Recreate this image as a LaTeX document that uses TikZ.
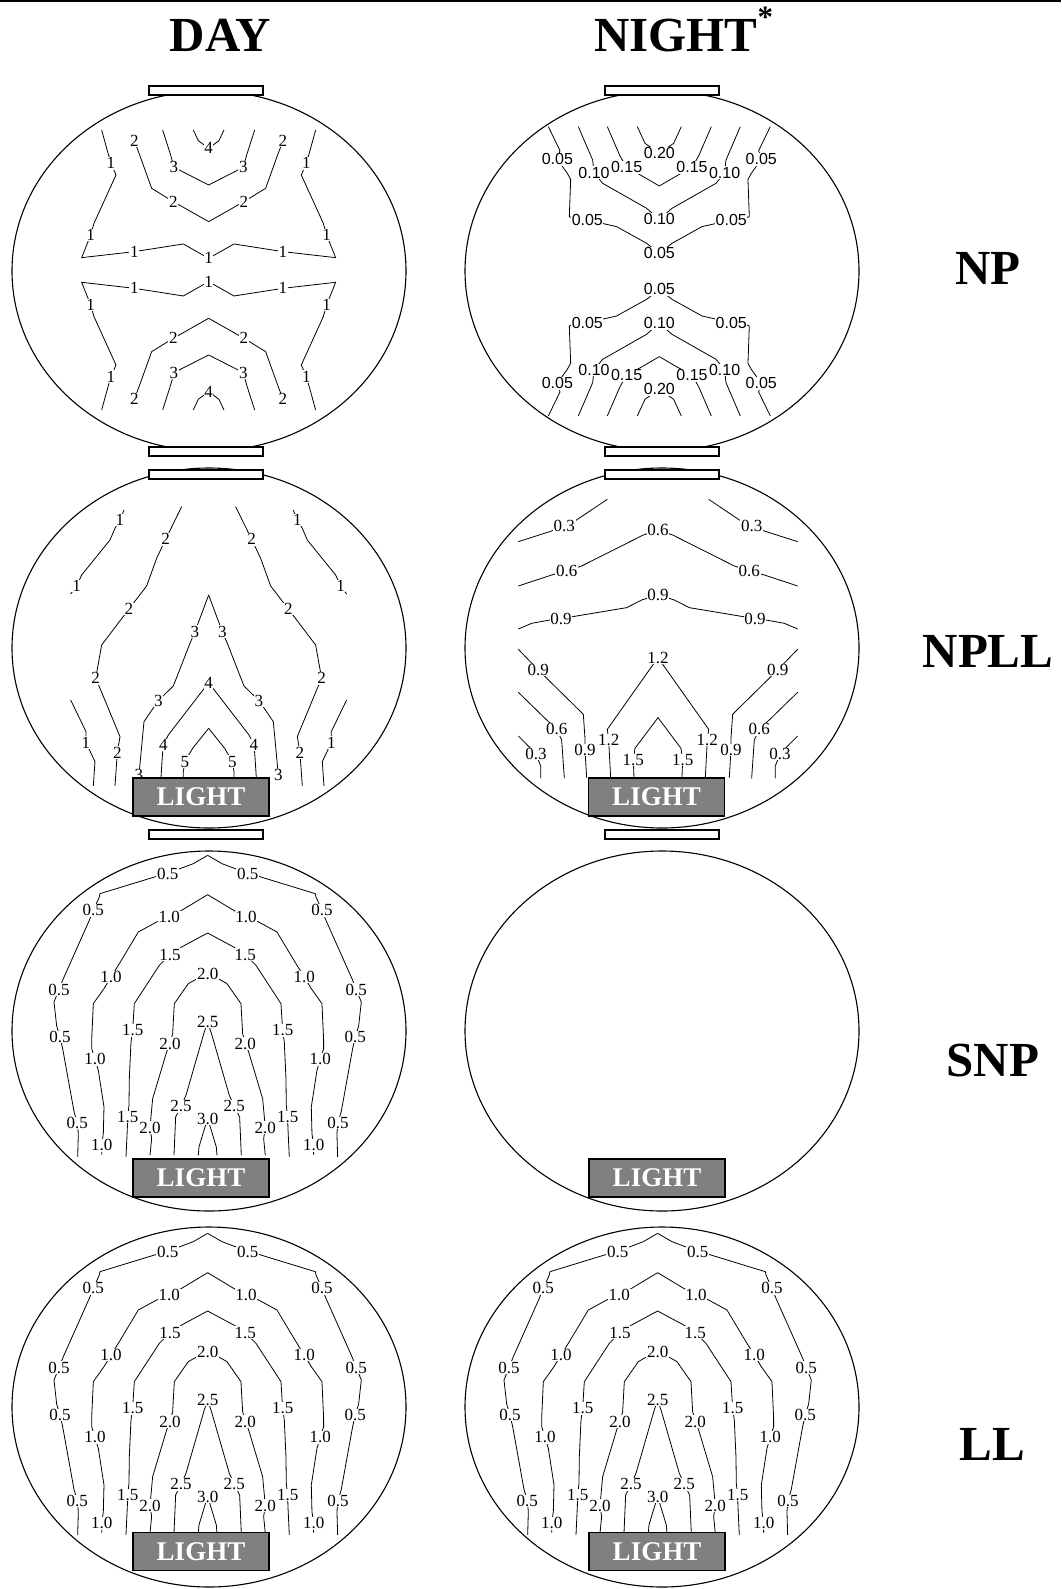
\documentclass[tikz,border=0pt]{standalone}
\usepackage{fontspec}
\setmainfont{Liberation Serif}
\newfontfamily\sansnum{Liberation Sans}
\definecolor{lampgray}{RGB}{128,128,128}
\newcommand{\valsize}{\fontsize{17}{17}\selectfont}
\newcommand{\headsize}{\fontsize{49}{49}\selectfont\bfseries}

\tikzset{
  dish/.style={draw, line width=1.1pt},
  iso/.style={line width=0.8pt},
  val/.style={fill=white, inner sep=0.6pt, font=\valsize},
  sval/.style={fill=white, inner sep=0.6pt, font={\sansnum\fontsize{16}{16}\selectfont}},
  lid/.style={draw, fill=white, line width=1.5pt, inner sep=0pt, minimum width=114pt, minimum height=9pt},
  lamp/.style={draw, fill=lampgray, line width=1.6pt, text=white, inner sep=0pt,
               minimum width=136pt, minimum height=38pt, font={\fontsize{27}{27}\selectfont\bfseries}},
  head/.style={font=\headsize},
}

% one half of a dish, mirrored about the axis
\newcommand{\halfview}[4]{%
  \foreach \sx in {1,-1}{
    \begin{scope}[shift={(#1,#2)}, x=0.3333pt, y=-0.3333pt,
                  shift={(#3,0)}, xscale=\sx, shift={(-#3,0)}]
      #4
    \end{scope}}}
% one quarter of a dish, mirrored both ways
\newcommand{\quarterview}[5]{%
  \foreach \sx in {1,-1}{\foreach \sy in {1,-1}{
    \begin{scope}[shift={(#1,#2)}, x=0.3333pt, y=-0.3333pt,
                  shift={(#3,#4)}, xscale=\sx, yscale=\sy, shift={(-#3,-#4)}]
      #5
    \end{scope}}}}

% NP, day
\newcommand{\npdayq}{
  \draw[iso] (305,150) -- (322,212) -- (333,250) node[val]{1} -- (348,285) -- (282,430) -- (272,465) node[val]{1}
    -- (245,533) -- (403,515) node[val]{1} -- (550,492) -- (626,535) node[val]{1};
  \draw[iso] (403,183) node[val]{2} -- (418,222) -- (455,325) -- (520,365) node[val]{2} -- (626,425);
  \draw[iso] (488,150) -- (512,225) -- (522,262) node[val]{3} -- (626,315);
  \draw[iso] (580,150) -- (595,182) -- (626,205) node[val]{4};
}
% NP, night
\newcommand{\npnightq}{
  \draw[iso] (295,140) -- (330,212) -- (322,238) node[sval]{0.05} -- (352,280) -- (362,298) -- (358,410) -- (368,414)
    -- (412,420) node[sval]{0.05} -- (500,440) -- (590,490) -- (628,520) node[sval]{0.05};
  \draw[iso] (472,140) -- (510,228) -- (530,262) node[sval]{0.15} -- (580,290) -- (628,318);
  \draw[iso] (385,140) -- (428,240) -- (432,278) node[sval]{0.10} -- (458,310) -- (590,385) -- (628,418) node[sval]{0.10};
  \draw[iso] (562,140) -- (585,190) -- (628,220) node[sval]{0.20};
}
% NPLL, day
\newcommand{\nplldayh}{
  \draw[iso] (372,150) -- (360,180) node[val]{1} -- (345,205) -- (330,240) -- (245,345) -- (230,378) node[val]{1} -- (212,402);
  \draw[iso] (545,140) -- (497,238) node[val]{2} -- (470,295) -- (440,378) -- (387,447) node[val]{2} -- (305,555)
    -- (287,655) node[val]{2} -- (300,685) -- (360,830) -- (352,878) node[val]{2} -- (345,978);
  \draw[iso] (212,720) -- (258,815) -- (258,848) node[val]{1} -- (285,905) -- (280,978);
  \draw[iso] (626,405) -- (585,515) node[val]{3} -- (570,550) -- (520,678) -- (475,722) node[val]{3} -- (432,785)
    -- (417,945) node[val]{3};
  \draw[iso] (626,668) node[val]{4} -- (505,825) -- (490,855) node[val]{4} -- (487,890) -- (483,953);
  \draw[iso] (626,805) -- (578,865) -- (555,905) node[val]{5} -- (550,935) -- (550,953);
}
% NPLL, night
\newcommand{\npllnighth}{
  \draw[iso] (472,118) -- (375,183) -- (343,197) node[val]{0.3} -- (305,213) -- (205,245);
  \draw[iso] (205,378) -- (305,345) -- (350,333) node[val]{0.6} -- (395,318) -- (580,225) -- (624,210) node[val]{0.6};
  \draw[iso] (205,507) -- (245,490) -- (300,480) -- (333,476) node[val]{0.9} -- (368,470) -- (530,443) -- (575,420)
    -- (624,405) node[val]{0.9};
  \draw[iso] (205,568) -- (265,630) node[val]{0.9} -- (400,763) -- (405,835) -- (405,870) node[val]{0.9} -- (410,953);
  \draw[iso] (624,593) node[val]{1.2} -- (472,808) -- (476,840) node[val]{1.2} -- (482,953);
  \draw[iso] (624,773) -- (555,865) -- (550,900) node[val]{1.5} -- (552,953);
  \draw[iso] (205,697) -- (285,775) -- (320,808) node[val]{0.6} -- (335,840) -- (343,955);
  \draw[iso] (205,828) -- (225,848) -- (258,882) node[val]{0.3} -- (272,918) -- (272,955);
}
% SNP and LL
\newcommand{\llhalf}{
  \draw[iso] (233,1005) -- (235,935) -- (232,903) node[val]{0.5} -- (222,868) -- (188,680) -- (180,645) node[val]{0.5}
    -- (170,612) -- (162,540) -- (177,503) node[val]{0.5} -- (190,470) -- (268,295) -- (280,265) node[val]{0.5}
    -- (298,225) -- (300,215) -- (470,163) -- (503,155) node[val]{0.5} -- (540,140) -- (580,125) -- (623,100);
  \draw[iso] (305,998) -- (305,970) node[val]{1.0} -- (310,935) -- (312,855) -- (295,745) -- (285,712) node[val]{1.0}
    -- (275,680) -- (275,655) -- (280,545) -- (312,500) -- (333,465) node[val]{1.0} -- (355,430) -- (415,330)
    -- (470,300) -- (508,285) node[val]{1.0} -- (545,265) -- (623,218);
  \draw[iso] (378,1005) -- (382,920) -- (383,885) node[val]{1.5} -- (387,850) -- (388,770) -- (393,660)
    -- (398,625) node[val]{1.5} -- (403,545) -- (478,430) -- (510,398) node[val]{1.5} -- (545,375) -- (623,333);
  \draw[iso] (450,1000) -- (455,950) -- (450,917) node[val]{2.0} -- (458,830) -- (500,690) -- (510,665) node[val]{2.0}
    -- (518,635) -- (523,545) -- (565,485) -- (600,465) -- (623,455) node[val]{2.0};
  \draw[iso] (522,1000) -- (527,885) -- (543,853) node[val]{2.5} -- (558,820) -- (612,633) -- (623,600) node[val]{2.5};
  \draw[iso] (595,1000) -- (597,975) -- (612,925) -- (623,890) node[val]{3.0};
}

\begin{document}
\begin{tikzpicture}[x=1pt, y=-1pt]
  \useasboundingbox (0,0) rectangle (1061,1589);
  \draw[line width=2pt] (0,1) -- (1061,1);

  % headings
  \node[head, anchor=base] (day) at (220.5,51.7) {DAY};
  \node[head, anchor=base west] (night) at (590.7,51.7) {NIGHT\raisebox{24pt}{\fontsize{31}{31}\selectfont *}};
  \node[head] (np) at (988,268.5) {NP};
  \node[head] (npll) at (988,651) {NPLL};
  \node[head] (snp) at (993,1060.5) {SNP};
  \node[head] (ll) at (992,1444) {LL};

  % dishes
  \foreach \cx in {209,662}
    \foreach \cy in {271,648,1031,1407}
      \draw[dish] (\cx,\cy) ellipse [x radius=197pt, y radius=180pt];

  % contours
  \quarterview{0}{80}{626}{570}{\npdayq}
  \quarterview{450}{80}{628}{574}{\npnightq}
  \halfview{0}{460}{626}{\nplldayh}
  \halfview{450}{460}{624}{\npllnighth}
  \halfview{0}{822}{623}{\llhalf}
  \halfview{0}{1200}{623}{\llhalf}
  \halfview{450}{1200}{623}{\llhalf}

  % lids
  \node[lid] (lidA1) at (206,90.5) {};
  \node[lid] (lidA2) at (206,451.5) {};
  \node[lid] (lidA3) at (206,474.5) {};
  \node[lid] (lidA4) at (206,834.5) {};
  \node[lid] (lidB1) at (662,90.5) {};
  \node[lid] (lidB2) at (662,451.5) {};
  \node[lid] (lidB3) at (662,474.5) {};
  \node[lid] (lidB4) at (662,834.5) {};

  % lights
  \node[lamp] (lampA2) at (201,797) {LIGHT};
  \node[lamp] (lampB2) at (656.5,797) {LIGHT};
  \node[lamp] (lampA3) at (201,1178) {LIGHT};
  \node[lamp] (lampB3) at (657,1178) {LIGHT};
  \node[lamp] (lampA4) at (201,1551.5) {LIGHT};
  \node[lamp] (lampB4) at (657,1551.5) {LIGHT};
\end{tikzpicture}
\end{document}
